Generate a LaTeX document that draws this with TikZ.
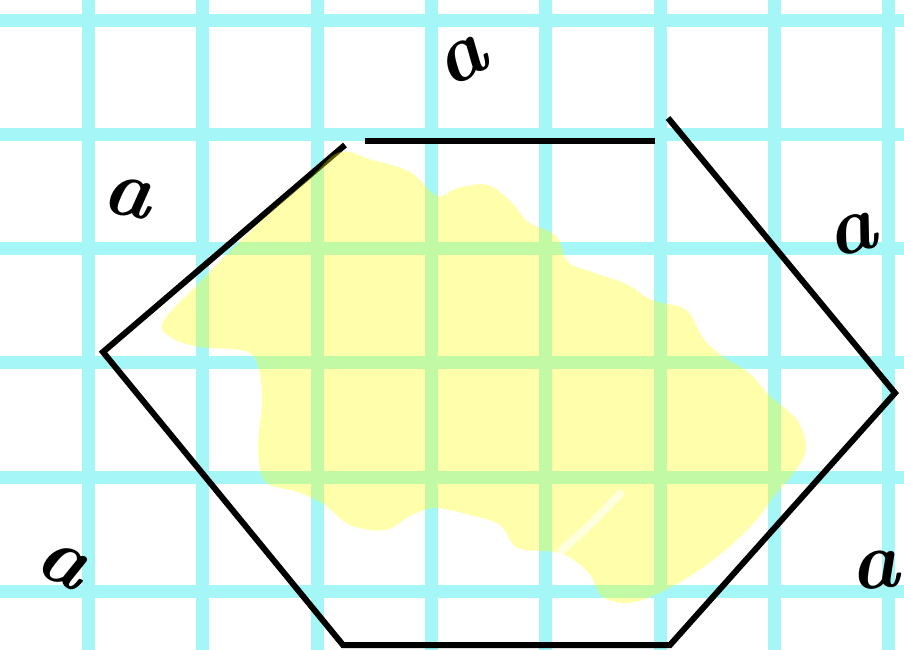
\documentclass[tikz,border=0pt]{standalone}
\usepackage{fontspec}
\definecolor{gridcyan}{RGB}{165,247,247}
\definecolor{hl}{RGB}{255,255,0}
\tikzset{
  gridline/.style={draw=gridcyan,line width=13pt},
  edge/.style={draw=black,line width=6pt,line join=miter,line cap=butt},
  lbl/.style={font=\fontsize{82}{82}\selectfont\bfseries\itshape,inner sep=0pt},
  blob/.style={fill=hl,fill opacity=0.33},
  crack/.style={draw=white,line width=8pt,opacity=0.6,line cap=round},
}
\begin{document}
\begin{tikzpicture}[x=1pt,y=-1pt]
\clip (0,0) rectangle (904,649);
\fill[white] (0,0) rectangle (904,649);
% grid
\foreach \k in {0,...,7} \draw[gridline] ({88.5+114.3*\k},-10) -- ({88.5+114.3*\k},660);
\foreach \k in {0,...,5} \draw[gridline] (-10,{20+114.3*\k}) -- (914,{20+114.3*\k});
% hexagon corners
\coordinate (ul) at (345,145);
\coordinate (l) at (103,352);
\coordinate (bl) at (343,645);
\coordinate (br) at (670,645);
\coordinate (r) at (895,393);
\coordinate (ur) at (668,118);
\coordinate (tl) at (365,141);
\coordinate (tr) at (655,141);
\draw[edge] (ul) -- (l) -- (bl) -- (br) -- (r) -- (ur);
\draw[edge] (tl) -- (tr);
% highlighter blob
\fill[blob] plot[smooth cycle,tension=0.6] coordinates {
 (163,322) (200,282) (260,222) (310,178) (340,152) (372,160) (410,172) (437,196)
 (458,188) (488,185) (512,203) (528,222) (556,236) (568,262) (592,272) (626,284)
 (652,300) (686,310) (703,338) (722,356) (748,372) (770,396) (797,420) (806,448)
 (796,470) (775,495) (752,525) (718,556) (680,582) (635,602) (603,597) (588,572)
 (560,553) (518,548) (500,525) (470,515) (436,508) (412,515) (385,530) (350,525)
 (325,505) (298,492) (266,482) (258,450) (262,400) (258,366) (245,351) (200,347)
 (172,338)};
\draw[crack] (562,550) .. controls (590,525) .. (620,494);
% labels
\node[lbl,rotate=30] (atop) at (462,62) {a};
\node[lbl,rotate=-10] (aul) at (128,198) {a};
\node[lbl,rotate=15] (aur) at (852,235) {a};
\node[lbl,rotate=-25] (abl) at (62,565) {a};
\node[lbl,rotate=5] (abr) at (875,570) {a};
\end{tikzpicture}
\end{document}
